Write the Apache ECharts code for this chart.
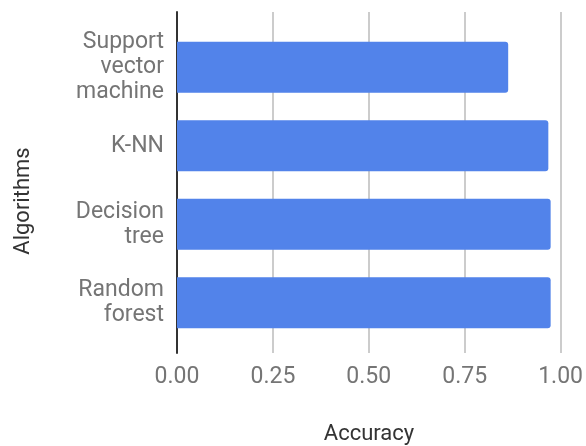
<!DOCTYPE html>
<html>
<head>
<meta charset="utf-8">
<script src="https://cdn.jsdelivr.net/npm/echarts@6/dist/echarts.min.js"></script>
<style>
  html, body { margin: 0; padding: 0; background: #fff; }
  #chart { width: 586px; height: 446px; }
</style>
</head>
<body>
<div id="chart"></div>
<script>
// Classifier accuracy comparison
const algorithms = ['Support\nvector\nmachine', 'K-NN', 'Decision\ntree', 'Random\nforest'];
const accuracy = [0.858, 0.962, 0.968, 0.968];
const accuracyTicks = [0, 0.25, 0.5, 0.75, 1];

const textColor = '#757575';
const font = 'Roboto';

const chart = echarts.init(document.getElementById('chart'), null, { renderer: 'canvas' });

chart.setOption({
  animation: false,
  grid: [
    // frame with gridlines and the value axis
    { left: 177, right: 23, top: 12, height: 341, containLabel: false },
    // band area holding the bars
    { left: 177, right: 23, top: 28, height: 314, containLabel: false }
  ],
  xAxis: [
    {
      gridIndex: 0,
      type: 'value',
      min: accuracyTicks[0],
      max: accuracyTicks[accuracyTicks.length - 1],
      interval: 0.25,
      axisLine: { show: false },
      axisTick: { show: false },
      splitLine: { show: true, lineStyle: { color: '#cccccc', width: 2 } },
      axisLabel: {
        margin: 13,
        color: textColor,
        fontFamily: font,
        fontSize: 23,
        formatter: v => v.toFixed(2)
      }
    },
    {
      gridIndex: 1,
      type: 'value',
      min: accuracyTicks[0],
      max: accuracyTicks[accuracyTicks.length - 1],
      show: false
    }
  ],
  yAxis: [
    {
      gridIndex: 0,
      type: 'value',
      min: 0,
      max: 1,
      axisLine: { show: true, onZero: false, lineStyle: { color: '#333333', width: 2 } },
      axisTick: { show: false },
      axisLabel: { show: false },
      splitLine: { show: false }
    },
    {
      gridIndex: 1,
      type: 'category',
      inverse: true,
      data: algorithms,
      axisLine: { show: false },
      axisTick: { show: false },
      splitLine: { show: false },
      axisLabel: {
        margin: 13,
        color: textColor,
        fontFamily: font,
        fontSize: 23,
        lineHeight: 25,
        align: 'right'
      }
    }
  ],
  series: [
    {
      type: 'bar',
      xAxisIndex: 1,
      yAxisIndex: 1,
      data: accuracy,
      barWidth: 51,
      itemStyle: { color: '#5283ea', borderRadius: [0, 3, 3, 0] }
    }
  ],
  graphic: [
    {
      type: 'text',
      x: 369,
      y: 434,
      style: {
        text: 'Accuracy', fill: '#333333', font: '22px Roboto',
        align: 'center', verticalAlign: 'middle'
      }
    },
    {
      type: 'text',
      x: 23,
      y: 201,
      rotation: Math.PI / 2,
      style: {
        text: 'Algorithms', fill: '#333333', font: '22px Roboto',
        align: 'center', verticalAlign: 'middle'
      }
    }
  ]
});
</script>
</body>
</html>
